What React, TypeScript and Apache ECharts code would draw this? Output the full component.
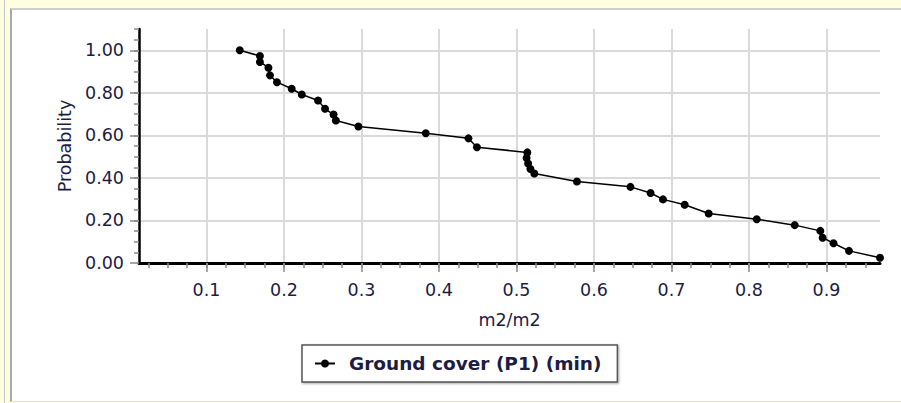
import React, { useEffect, useRef } from "react";
import * as echarts from "echarts";

// Data
const seriesName = "Ground cover (P1) (min)";
const coverValues = [0.143, 0.169, 0.169, 0.180, 0.182, 0.191, 0.210, 0.223, 0.244, 0.253, 0.264, 0.267, 0.296, 0.383, 0.438, 0.449, 0.514, 0.513, 0.515, 0.518, 0.523, 0.578, 0.647, 0.673, 0.689, 0.717, 0.748, 0.810, 0.859, 0.892, 0.895, 0.909, 0.929, 0.969];
const probValues = [1.000, 0.973, 0.945, 0.918, 0.882, 0.850, 0.819, 0.792, 0.764, 0.725, 0.698, 0.670, 0.642, 0.610, 0.586, 0.544, 0.520, 0.494, 0.468, 0.442, 0.421, 0.383, 0.358, 0.329, 0.299, 0.274, 0.233, 0.206, 0.178, 0.151, 0.119, 0.093, 0.057, 0.025];
const xTickValues = [0.1, 0.2, 0.3, 0.4, 0.5, 0.6, 0.7, 0.8, 0.9];
const yTickValues = [0, 0.2, 0.4, 0.6, 0.8, 1.0];
const xMinorTicks = Array.from({ length: 38 }, (_, i) => +((i + 1) * 0.025).toFixed(3));
const yMinorTicks = Array.from({ length: 22 }, (_, i) => +((i + 1) * 0.05).toFixed(2));
const xMin = 0.013;
const xMax = 0.969;
const yMin = 0;
const yMax = 1.1;

const FONT = "DejaVu Sans";
const TEXT_COLOR = "#1c1c44";

export default function App() {
  const ref = useRef<HTMLDivElement>(null);

  useEffect(() => {
    if (!ref.current) return;
    const chart = echarts.init(ref.current, undefined, { renderer: "svg" });
    const data = coverValues.map((v, i) => [v, probValues[i]]);
    chart.setOption({
      animation: false,
      grid: { left: 139, right: 21, top: 29, bottom: 140, containLabel: false },
      legend: {
        left: 302,
        top: 345,
        orient: "horizontal",
        data: [seriesName],
        padding: [9, 16, 9, 12],
        itemWidth: 20,
        itemHeight: 10,
        borderColor: "#555555",
        borderWidth: 1.5,
        backgroundColor: "#ffffff",
        shadowColor: "rgba(0,0,0,0.35)",
        shadowBlur: 2,
        shadowOffsetX: 1,
        shadowOffsetY: 1,
        textStyle: {
          fontFamily: FONT,
          fontSize: 18.5,
          fontWeight: "bold",
          color: TEXT_COLOR,
          padding: [0, 0, 0, 9],
        },
      },
      xAxis: [
        {
          type: "value",
          min: xMin,
          max: xMax,
          position: "bottom",
          name: "m2/m2",
          nameLocation: "middle",
          nameGap: 48,
          nameTextStyle: { fontFamily: FONT, fontSize: 17.5, color: TEXT_COLOR },
          axisLine: { show: true, onZero: false, lineStyle: { color: "#000", width: 3 } },
          axisTick: { show: true, customValues: xTickValues, length: 9, lineStyle: { color: "#8a8a8a", width: 1.5 } },
          axisLabel: {
            customValues: xTickValues,
            margin: 18,
            fontFamily: FONT,
            fontSize: 17.5,
            color: TEXT_COLOR,
            formatter: (v: number) => v.toFixed(1),
          },
          splitLine: { show: true, lineStyle: { color: "#dadada", width: 2 } },
        },
        {
          type: "value",
          min: xMin,
          max: xMax,
          position: "bottom",
          axisLine: { show: false },
          axisTick: { show: true, customValues: xMinorTicks, length: 5, lineStyle: { color: "#8a8a8a", width: 1.5 } },
          axisLabel: { show: false },
          splitLine: { show: false },
        },
      ],
      yAxis: [
        {
          type: "value",
          min: yMin,
          max: yMax,
          position: "left",
          name: "Probability",
          nameLocation: "middle",
          nameGap: 58,
          nameRotate: 90,
          nameTextStyle: { fontFamily: FONT, fontSize: 17.5, color: TEXT_COLOR },
          axisLine: { show: true, onZero: false, lineStyle: { color: "#000", width: 2.5 } },
          axisTick: { show: true, customValues: yTickValues, length: 9, lineStyle: { color: "#8a8a8a", width: 1.5 } },
          axisLabel: {
            customValues: yTickValues,
            margin: 15,
            fontFamily: FONT,
            fontSize: 17.5,
            color: TEXT_COLOR,
            formatter: (v: number) => v.toFixed(2),
          },
          splitLine: { show: true, lineStyle: { color: "#dadada", width: 2 } },
        },
        {
          type: "value",
          min: yMin,
          max: yMax,
          position: "left",
          axisLine: { show: false },
          axisTick: { show: true, customValues: yMinorTicks, length: 5, lineStyle: { color: "#8a8a8a", width: 1.5 } },
          axisLabel: { show: false },
          splitLine: { show: false },
        },
      ],
      series: [
        {
          name: seriesName,
          type: "line",
          xAxisIndex: 0,
          yAxisIndex: 0,
          data,
          clip: false,
          symbol: "circle",
          symbolSize: 8,
          showSymbol: true,
          itemStyle: { color: "#000000" },
          lineStyle: { color: "#000000", width: 1.5 },
          z: 5,
        },
      ],
    });
    return () => chart.dispose();
  }, []);

  return (
    <div style={{ position: "fixed", left: 0, top: 0, width: 901, height: 403, background: "#ffffe1", overflow: "hidden" }}>
      <div style={{ position: "absolute", left: 4, top: 0, width: 1, height: 403, background: "#c4c4c4" }} />
      <div
        style={{
          position: "absolute",
          left: 10,
          top: 8,
          width: 891,
          height: 394,
          background: "#ffffff",
          borderTop: "2px solid #cfcfcf",
          borderLeft: "2px solid #a9a9a9",
          borderBottom: "1px solid #e2e2e2",
          boxSizing: "border-box",
        }}
      />
      <div ref={ref} style={{ position: "absolute", left: 0, top: 0, width: 901, height: 403 }} />
    </div>
  );
}
